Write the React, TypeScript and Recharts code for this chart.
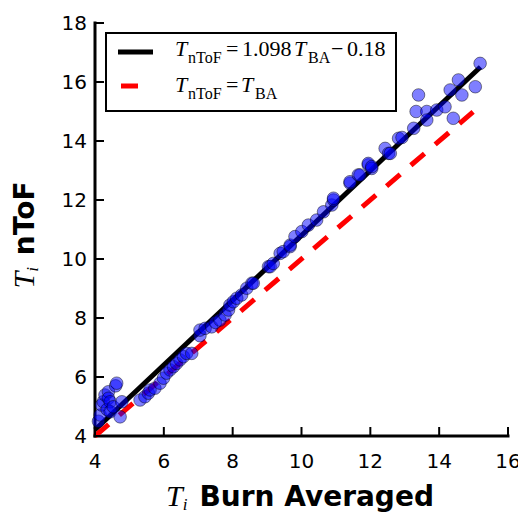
import { ScatterChart, Scatter, XAxis, YAxis } from 'recharts'

// tick values
const xTicks = [4, 6, 8, 10, 12, 14, 16]
const yTicks = [4, 6, 8, 10, 12, 14, 16, 18]

// T_i burn averaged (x) vs T_i nToF (y)
const burnAveraged = [
  4.1, 4.15, 4.19, 4.24, 4.29, 4.35, 4.39, 4.39, 4.44, 4.44, 4.53, 4.6, 4.63, 4.73, 4.78,
  5.31, 5.45, 5.55, 5.6, 5.74, 5.89, 5.99, 6.08, 6.18, 6.28, 6.37, 6.47, 6.57, 6.66, 6.81,
  7.05, 7.05, 7.2, 7.39, 7.5, 7.63, 7.78, 7.88, 7.92, 8.02, 8.12, 8.26, 8.41, 8.56, 8.6,
  9.04, 9.09, 9.18, 9.38, 9.47, 9.67, 9.67, 9.81, 10.01, 10.2, 10.44, 10.64, 10.88, 10.93, 10.93,
  11.41, 11.41, 11.65, 11.7, 11.94, 11.94, 12.04, 12.04, 12.43, 12.53, 12.58, 12.82, 12.92,
  13.26, 13.33, 13.4, 13.64, 13.64, 13.93, 14.17, 14.32, 14.56, 14.66, 14.41, 15.05, 15.19,
]
const nToF = [
  4.5, 4.71, 5.05, 5.16, 5.39, 4.9, 5.5, 5.28, 5.16, 4.82, 4.99, 5.7, 5.79, 4.65, 5.16,
  5.22, 5.33, 5.45, 5.56, 5.62, 5.79, 5.96, 6.13, 6.24, 6.35, 6.46, 6.58, 6.69, 6.8, 6.8,
  7.4, 7.59, 7.65, 7.7, 7.85, 7.93, 8.1, 8.27, 8.44, 8.55, 8.67, 8.78, 9.01, 9.18, 9.18,
  9.74, 9.74, 9.85, 10.19, 10.25, 10.42, 10.47, 10.76, 10.93, 11.15, 11.32, 11.6, 11.83, 12.0, 12.06,
  12.57, 12.62, 12.85, 12.85, 13.19, 13.24, 13.07, 13.13, 13.75, 13.58, 13.58, 14.09, 14.12,
  14.43, 15.0, 15.56, 15.0, 14.71, 15.05, 15.16, 15.73, 16.07, 15.56, 14.77, 15.84, 16.63,
]
const points = burnAveraged.map((x, i) => ({ x, y: nToF[i] }))

// T_nToF = 1.098 T_BA - 0.18 and T_nToF = T_BA
const fitLine = [{ x: 4, y: 4.212 }, { x: 15.2, y: 16.51 }]
const identityLine = [{ x: 4, y: 4 }, { x: 15.1, y: 15.1 }]

const TICK_FONT = 'DejaVu Sans'
const SERIF = '"Liberation Serif", "DejaVu Serif", serif'

const BottomTick = (p: any) => (
  <g>
    <line x1={p.x} x2={p.x} y1={p.y} y2={p.y - 9} stroke="#000" strokeWidth={2} />
    <text x={p.x} y={p.y + 32} textAnchor="middle" fontSize={20} fontFamily={TICK_FONT} fill="#000">
      {p.payload.value}
    </text>
  </g>
)

const LeftTick = (p: any) => (
  <g>
    <line x1={p.x} x2={p.x + 9} y1={p.y} y2={p.y} stroke="#000" strokeWidth={2} />
    <text x={p.x - 8} y={p.y + 7} textAnchor="end" fontSize={20} fontFamily={TICK_FONT} fill="#000">
      {p.payload.value}
    </text>
  </g>
)

const TopTick = (p: any) => (
  <line x1={p.x} x2={p.x} y1={p.y} y2={p.y + 9} stroke="#000" strokeWidth={2} />
)

const RightTick = (p: any) => (
  <line x1={p.x} x2={p.x - 9} y1={p.y} y2={p.y} stroke="#000" strokeWidth={2} />
)

const Dot = (p: any) => (
  <circle cx={p.cx} cy={p.cy} r={6.3} fill="#0000ff" fillOpacity={0.5} stroke="#000" strokeOpacity={0.45} strokeWidth={1} />
)

const Nothing = () => <g />

const spine = { stroke: '#000', strokeWidth: 3, strokeLinecap: 'square' as const }

export default function App() {
  return (
    <div style={{ position: 'relative', width: 518, height: 507 }}>
      <ScatterChart width={518} height={507} margin={{ top: 15, right: 18, bottom: 39, left: 27 }}>
        <XAxis xAxisId="bottom" type="number" dataKey="x" domain={[4, 16]} ticks={xTicks} interval={0}
          tickSize={0} tickMargin={0} height={40} axisLine={spine} tickLine={false} tick={BottomTick} />
        <XAxis xAxisId="top" orientation="top" type="number" dataKey="x" domain={[4, 16]} ticks={xTicks} interval={0}
          tickSize={0} tickMargin={0} height={0} axisLine={spine} tickLine={false} tick={TopTick} />
        <YAxis yAxisId="left" type="number" dataKey="y" domain={[4, 18]} ticks={yTicks} interval={0}
          tickSize={0} tickMargin={0} width={60} axisLine={spine} tickLine={false} tick={LeftTick} />
        <YAxis yAxisId="right" orientation="right" type="number" dataKey="y" domain={[4, 18]} ticks={yTicks} interval={0}
          tickSize={0} tickMargin={0} width={0} axisLine={spine} tickLine={false} tick={RightTick} />
        <Scatter xAxisId="top" yAxisId="right" data={points} shape={Nothing} isAnimationActive={false} />
        <Scatter xAxisId="bottom" yAxisId="left" data={fitLine} shape={Nothing} isAnimationActive={false}
          line={{ stroke: '#000', strokeWidth: 5 }} />
        <Scatter xAxisId="bottom" yAxisId="left" data={identityLine} shape={Nothing} isAnimationActive={false}
          line={{ stroke: '#ff0000', strokeWidth: 5, strokeDasharray: '18 14' }} />
        <Scatter xAxisId="bottom" yAxisId="left" data={points} shape={Dot} isAnimationActive={false} />
      </ScatterChart>
      <svg width={518} height={507} style={{ position: 'absolute', left: 0, top: 0, pointerEvents: 'none' }}>
        <rect x={98} y={25} width={290} height={78} fill="#fff" stroke="#000" strokeWidth={2} />
        <line x1={110} x2={145} y1={44} y2={44} stroke="#000" strokeWidth={5} />
        <line x1={113} x2={130} y1={78} y2={78} stroke="#ff0000" strokeWidth={5} />
        <text fontFamily={SERIF} fontSize={22} fill="#000">
          <tspan x={167} y={48} fontStyle="italic">T</tspan>
          <tspan x={180} y={55} fontSize={16}>nToF</tspan>
          <tspan x={218} y={48}>=</tspan>
          <tspan x={234} y={48}>1.098</tspan>
          <tspan x={286} y={48} fontStyle="italic">T</tspan>
          <tspan x={300} y={55} fontSize={16}>BA</tspan>
          <tspan x={323} y={48}>−</tspan>
          <tspan x={339} y={48}>0.18</tspan>
        </text>
        <text fontFamily={SERIF} fontSize={22} fill="#000">
          <tspan x={167} y={84} fontStyle="italic">T</tspan>
          <tspan x={180} y={91} fontSize={16}>nToF</tspan>
          <tspan x={218} y={84}>=</tspan>
          <tspan x={233} y={84} fontStyle="italic">T</tspan>
          <tspan x={247} y={91} fontSize={16}>BA</tspan>
        </text>
        <text x={292} y={498} textAnchor="middle" fill="#000">
          <tspan fontFamily={SERIF} fontStyle="italic" fontSize={30}>T</tspan>
          <tspan fontFamily={SERIF} fontStyle="italic" fontSize={17} dy={4}>i</tspan>
          <tspan fontFamily={TICK_FONT} fontWeight="bold" fontSize={28} dy={-4} dx={12}>Burn Averaged</tspan>
        </text>
        <text transform="translate(26, 227) rotate(-90)" textAnchor="middle" fill="#000">
          <tspan fontFamily={SERIF} fontStyle="italic" fontSize={30}>T</tspan>
          <tspan fontFamily={SERIF} fontStyle="italic" fontSize={17} dy={4}>i</tspan>
          <tspan fontFamily={TICK_FONT} fontWeight="bold" fontSize={28} dy={-4} dx={12}>nToF</tspan>
        </text>
      </svg>
    </div>
  )
}
